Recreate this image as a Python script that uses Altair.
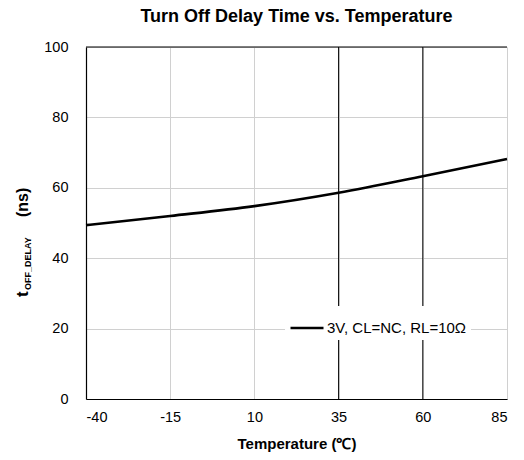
import altair as alt
import pandas as pd

temps = [-40, -15, 10, 35, 60, 85]
delay = [49.4, 52.0, 54.8, 58.6, 63.3, 68.2]
series = "3V, CL=NC, RL=10Ω"
x_ticks = [-40, -15, 10, 35, 60, 85]
y_ticks = [0, 20, 40, 60, 80, 100]
dark_grid = [35, 60]

df = pd.DataFrame({"T": temps, "t": delay, "s": [series] * len(temps)})
FONT = "Liberation Sans"

xscale = alt.Scale(domain=[-40, 85], nice=False, zero=False)
yscale = alt.Scale(domain=[0, 100], nice=False)

base = alt.Chart(df)

line = base.mark_line(strokeWidth=2.6, interpolate="monotone").encode(
    x=alt.X("T:Q", scale=xscale,
            axis=alt.Axis(values=x_ticks, labelExpr="'' + datum.value",
                          title="Temperature (℃)", titleFontWeight="bold",
                          titleFontSize=15, titlePadding=13, labelFontSize=14.5, labelPadding=11,
                          ticks=False, domainColor="#000", domainWidth=1.2,
                          gridColor="#d0d0d0", labelColor="#000", titleColor="#000",
                          labelFont=FONT, titleFont=FONT)),
    y=alt.Y("t:Q", scale=yscale,
            axis=alt.Axis(values=y_ticks, labelExpr="'' + datum.value", title=None,
                          labelFontSize=14.5, labelPadding=18,
                          ticks=False, domainColor="#000", domainWidth=1.2,
                          gridColor="#d0d0d0", labelColor="#000", labelFont=FONT)),
    color=alt.Color("s:N", scale=alt.Scale(range=["#000000"]),
                    legend=alt.Legend(title=None, orient="none", legendX=199, legendY=259,
                                      symbolType="stroke", symbolSize=1089, symbolStrokeWidth=2.6,
                                      labelFontSize=15, labelFont=FONT, labelColor="#000",
                                      fillColor="white", padding=4, labelOffset=2)),
)

vrules = alt.Chart(pd.DataFrame({"x": dark_grid})).mark_rule(color="#000", strokeWidth=1).encode(
    x=alt.X("x:Q", scale=xscale)
)
toprule = alt.Chart(pd.DataFrame({"y": [100]})).mark_rule(color="#000", strokeWidth=1.2).encode(
    y=alt.Y("y:Q", scale=yscale)
)

one = pd.DataFrame({"a": [0]})
t1 = alt.Chart(one).mark_text(angle=270, align="left", baseline="middle", fontSize=17,
                              fontWeight="bold", font=FONT).encode(
    x=alt.value(-63), y=alt.value(250), text=alt.value("t"))
t2 = alt.Chart(one).mark_text(angle=270, align="left", baseline="middle", fontSize=9,
                              fontWeight="bold", font=FONT).encode(
    x=alt.value(-58), y=alt.value(243), text=alt.value("OFF_DELAY"))
t3 = alt.Chart(one).mark_text(angle=270, align="left", baseline="middle", fontSize=16,
                              fontWeight="bold", font=FONT).encode(
    x=alt.value(-63), y=alt.value(170), text=alt.value("(ns)"))

chart = alt.layer(vrules, toprule, line, t1, t2, t3).properties(
    width=421, height=352,
    title=alt.TitleParams("Turn Off Delay Time vs. Temperature", fontSize=18, fontWeight="bold",
                          font=FONT, anchor="middle", offset=13, color="#000"),
    autosize=alt.AutoSizeParams(type="none"),
    padding={"left": 78, "top": 39, "right": 9, "bottom": 53},
).configure_view(stroke=None).configure_axis(gridWidth=1)

chart.save("out.html", embed_options={"renderer": "svg", "actions": False})
